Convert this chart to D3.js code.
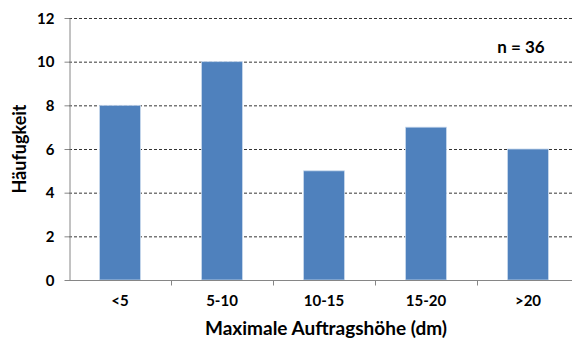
<!DOCTYPE html>
<html><head><meta charset="utf-8">
<script src="https://cdn.jsdelivr.net/npm/d3@7"></script>
<style>body{margin:0;background:#fff}svg{display:block}text{font-family:Lato,"Open Sans",sans-serif;font-weight:bold;fill:#000}</style>
</head><body><svg id="c" width="572" height="338"></svg>
<script>
const categories = ["<5","5-10","10-15","15-20",">20"];
const values = [8,10,5,7,6];
const yTicks = [0,2,4,6,8,10,12];
const xTitle = "Maximale Auftragshöhe (dm)";
const yTitle = "Häufugkeit";
const note = "n = 36";

(function(){
const svg = d3.select("#c");
const mLeft = 69, mRight = 579, mTop = 18, mBottom = 280;
const x = d3.scaleBand().domain(categories).range([mLeft,mRight]).paddingInner(0.6).paddingOuter(0.3);
const y = d3.scaleLinear().domain([0,12]).range([mBottom,mTop]);

// gridlines
svg.append("g").selectAll("line").data(yTicks.filter(d=>d>0)).join("line")
  .attr("x1",mLeft).attr("x2",572).attr("y1",d=>y(d)+0.5).attr("y2",d=>y(d)+0.5)
  .attr("stroke","#000").attr("stroke-width",0.8).attr("stroke-dasharray","3,2");

// bars
svg.append("g").selectAll("rect").data(values).join("rect")
  .attr("x",(d,i)=>x(categories[i])).attr("y",d=>y(d))
  .attr("width",x.bandwidth()).attr("height",d=>y(0)-y(d))
  .attr("fill","#4F81BD").attr("stroke","#C6D7EC").attr("stroke-width",0.8);

// y axis
const ya = svg.append("g").attr("transform",`translate(${mLeft+0.5},0)`)
  .call(d3.axisLeft(y).tickValues(yTicks).tickSize(5).tickSizeOuter(0).tickPadding(10));
ya.select(".domain").attr("stroke","#868686");
ya.selectAll(".tick line").attr("stroke","#868686");
ya.selectAll(".tick text").style("font-size","15px").attr("dy","0.35em");

// x axis
const xa = svg.append("g").attr("transform",`translate(0,${mBottom+0.5})`)
  .call(d3.axisBottom(x).tickSize(0).tickPadding(15));
xa.select(".domain").attr("stroke","#868686").attr("d",`M${mLeft},0H572`);
xa.selectAll(".tick text").style("font-size","15px");
const bounds = categories.map(c=>x(c)-x.step()*x.paddingOuter()).slice(1);
xa.append("g").selectAll("line").data(bounds).join("line")
  .attr("x1",d=>Math.round(d)+0.5).attr("x2",d=>Math.round(d)+0.5).attr("y1",0).attr("y2",5)
  .attr("stroke","#868686");

// titles
svg.append("text").attr("x",326).attr("y",335).attr("text-anchor","middle").style("font-size","19px").text(xTitle);
svg.append("text").attr("transform","translate(26,149) rotate(-90)").attr("text-anchor","middle").style("font-size","18px").text(yTitle);
svg.append("text").attr("x",521).attr("y",53).attr("text-anchor","middle").style("font-size","17px").text(note);
})();
</script></body></html>
